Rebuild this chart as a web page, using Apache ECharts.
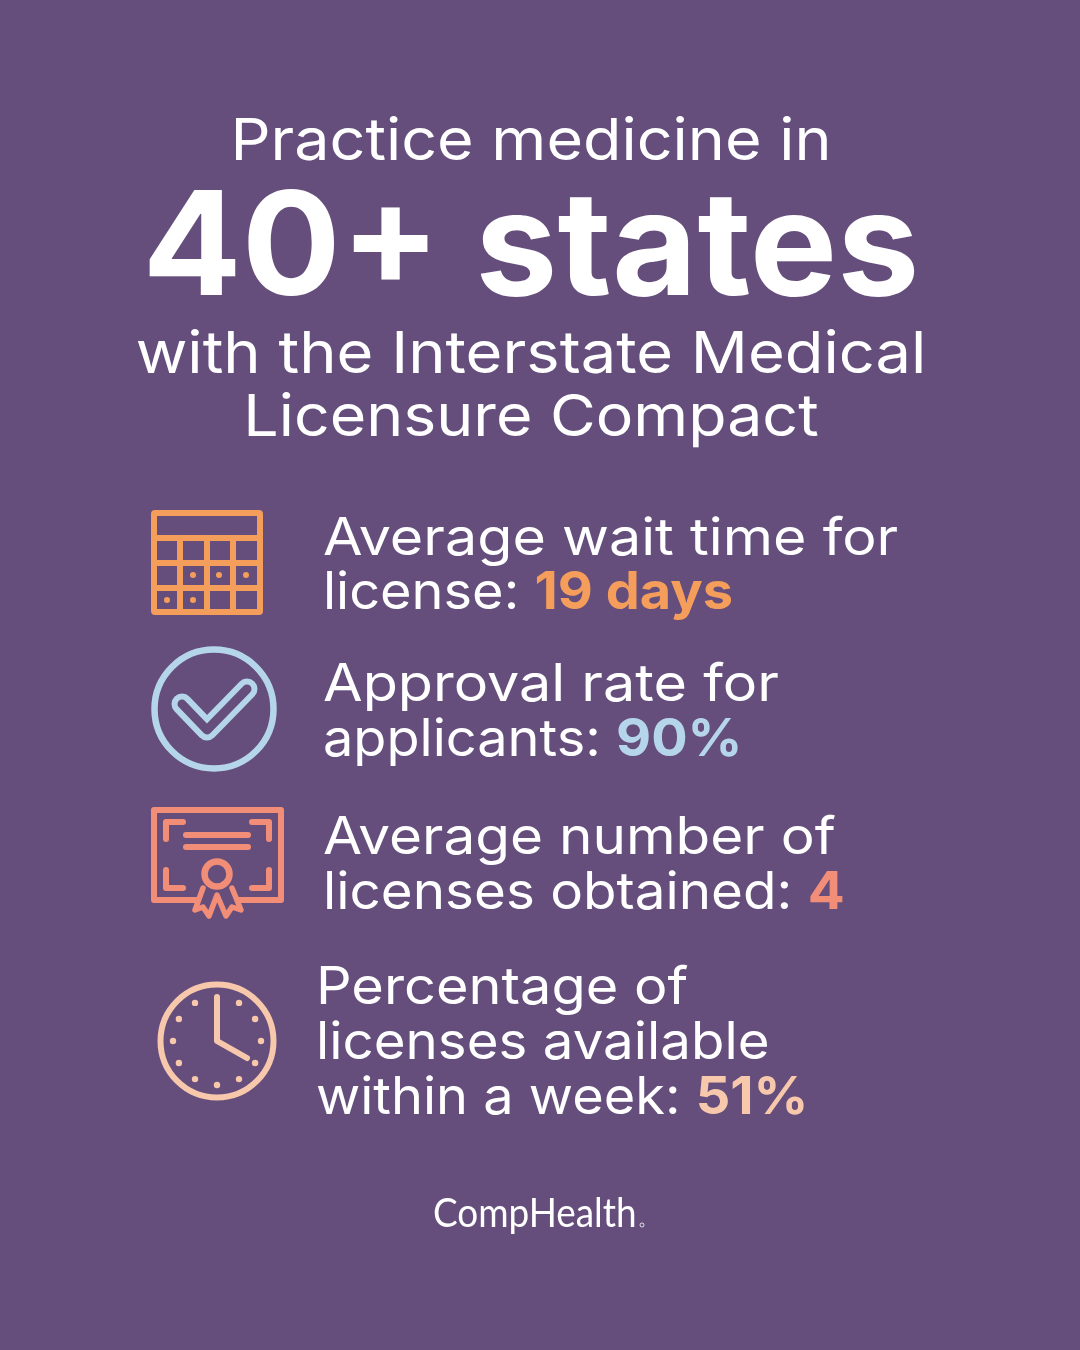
<!DOCTYPE html>
<html>
<head>
<meta charset="utf-8">
<title>Interstate Medical Licensure Compact</title>
<style>html,body{margin:0;padding:0;background:#654e7c}#chart{width:1080px;height:1350px}</style>
<script src="https://cdn.jsdelivr.net/npm/echarts@6/dist/echarts.min.js"></script>
</head>
<body>
<div id="chart"></div>
<script>
var titleTop = 'Practice medicine in';
var titleBig = '40+ states';
var titleBottom = ['with the Interstate Medical', 'Licensure Compact'];
var statLines = [
    ['Average wait time for', 'license: '],
    ['Approval rate for', 'applicants: '],
    ['Average number of', 'licenses obtained: '],
    ['Percentage of', 'licenses available', 'within a week: ']
];
var statValues = ['19 days', '90%', '4', '51%'];
var statColors = ['#f59d5b', '#b5d6ea', '#f28e78', '#f7c8ac'];
var logoText = 'CompHealth';

var bg = '#654e7c';
var font = 'Inter';
var myChart = echarts.init(document.getElementById('chart'));
var g = [];

function text(str, x, y, size, weight, align, sx, family) {
    g.push({
        type: 'text', x: x, y: y, scaleX: sx || 1,
        style: {
            text: str, fill: '#fff', font: weight + ' ' + size + 'px ' + (family || font),
            textAlign: align, textVerticalAlign: 'middle'
        }
    });
}
function line(points, color, width) {
    g.push({
        type: 'polyline',
        shape: { points: points },
        style: { stroke: color, fill: null, lineWidth: width, lineCap: 'round', lineJoin: 'round' }
    });
}
function ring(cx, cy, r, color, width) {
    g.push({ type: 'circle', shape: { cx: cx, cy: cy, r: r }, style: { stroke: color, fill: null, lineWidth: width } });
}
function dot(cx, cy, r, color) {
    g.push({ type: 'circle', shape: { cx: cx, cy: cy, r: r }, style: { fill: color } });
}

// heading
text(titleTop, 531, 143, 58, 400, 'center', 1.083);
text(titleBig, 531, 252, 144, 700, 'center', 1.02);
text(titleBottom[0], 531, 356, 58, 400, 'center', 1.09);
text(titleBottom[1], 531, 419, 58, 400, 'center', 1.08);

// stat rows
var rowX = [323, 323, 323, 316];
var rowY = [[539, 593], [685, 740], [838, 893], [988, 1043, 1098]];
var rowScale = [[1.104, 1.04], [1.105, 1.04], [1.09, 1.053], [1.074, 1.051, 1.04]];
statLines.forEach(function (rows, i) {
    rows.forEach(function (str, j) {
        var last = j === rows.length - 1;
        g.push({
            type: 'text', x: rowX[i], y: rowY[i][j], scaleX: rowScale[i][j],
            style: {
                text: last ? '{a|' + str + '}{b|' + statValues[i] + '}' : '{a|' + str + '}',
                textAlign: 'left', textVerticalAlign: 'middle',
                rich: {
                    a: { fill: '#fff', font: '400 52px ' + font },
                    b: { fill: statColors[i], font: '700 52px ' + font }
                }
            }
        });
    });
});

// calendar icon
var c = statColors[0];
g.push({ type: 'rect', shape: { x: 154, y: 513, width: 106, height: 99, r: 1 }, style: { stroke: c, fill: null, lineWidth: 6 } });
line([[154, 538], [260, 538]], c, 6);
line([[154, 563], [260, 563]], c, 6);
line([[154, 588], [260, 588]], c, 6);
line([[180, 538], [180, 612]], c, 6);
line([[207, 538], [207, 612]], c, 6);
line([[233, 538], [233, 612]], c, 6);
[[193, 575], [219, 575], [246, 575], [167, 600], [193, 600]].forEach(function (p) { dot(p[0], p[1], 3, c); });

// check icon
c = statColors[1];
ring(214, 709, 59.5, c, 6.5);
line([[182, 704], [207, 730], [247, 689]], c, 21);
line([[182, 704], [207, 730], [247, 689]], bg, 9);

// certificate icon
c = statColors[2];
line([[198, 900], [154, 900], [154, 810], [281, 810], [281, 900], [238, 900]], c, 6);
line([[183, 822], [166, 822], [166, 839]], c, 6);
line([[252, 822], [269, 822], [269, 839]], c, 6);
line([[166, 870], [166, 888], [183, 888]], c, 6);
line([[252, 888], [269, 888], [269, 870]], c, 6);
line([[186, 835], [248, 835]], c, 6);
line([[186, 847], [248, 847]], c, 6);
ring(217, 874, 12.5, c, 6.5);
line([[203, 888], [195, 910], [203, 907], [209, 916], [217, 895], [226, 916], [232, 907], [241, 910], [232, 888]], c, 5.5);

// clock icon
c = statColors[3];
ring(217, 1041, 56.5, c, 6);
line([[217, 997], [217, 1041], [247, 1058]], c, 6);
for (var h = 1; h < 12; h++) {
    var a = h * Math.PI / 6;
    dot(217 + 44 * Math.sin(a), 1041 - 44 * Math.cos(a), 3.2, c);
}

// logo
text(logoText, 433, 1214, 41, 400, 'left', 0.9, 'Lato');
ring(642, 1225, 2, '#fff', 0.8);

var option = {
    backgroundColor: bg,
    animation: false,
    graphic: { elements: g }
};
myChart.setOption(option);
</script>
</body>
</html>
